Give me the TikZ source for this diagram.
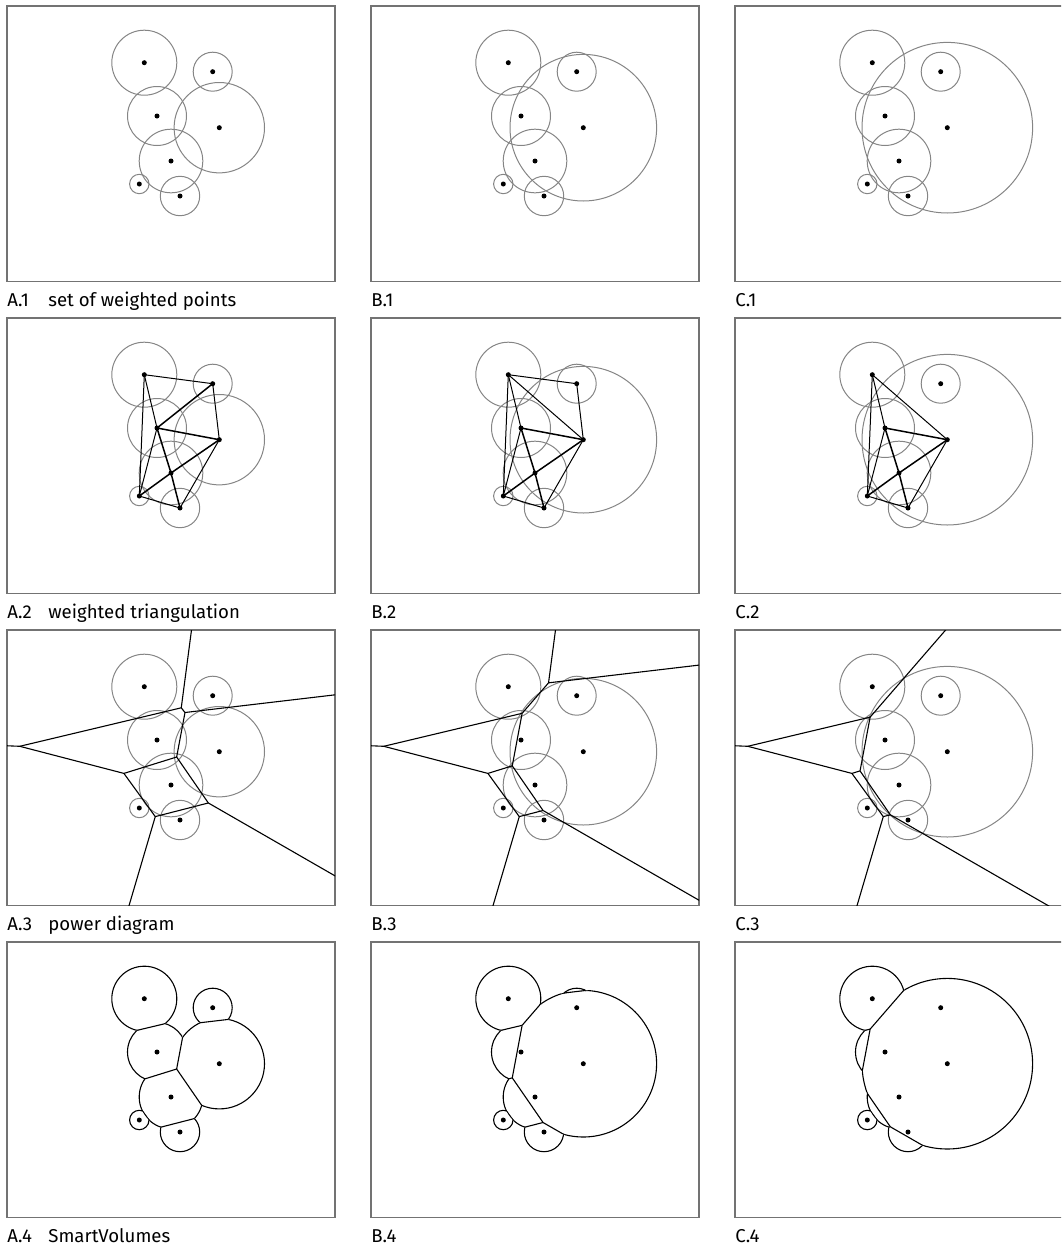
\documentclass[tikz,border=0pt]{standalone}
\usepackage{fontspec}
\setmainfont{Fira Sans}
\usetikzlibrary{calc}

\definecolor{ballgray}{gray}{0.52}
\definecolor{framegray}{gray}{0.45}

\tikzset{
  ball/.style={draw=ballgray, line width=0.5pt},
  frame/.style={draw=framegray, line width=0.55pt},
  site/.style={circle, fill=black, inner sep=0pt, minimum size=2.5pt},
  tri/.style={black, line width=0.5pt},
  trithick/.style={black, line width=0.75pt},
  cellline/.style={black, line width=0.55pt},
  caption/.style={anchor=base west, inner sep=0pt, font=\fontsize{9.3}{11}\selectfont},
}

\newcommand\sitecoords{%
  \coordinate (s1) at (144.3,62.7);
  \coordinate (s2) at (212.7,71.7);
  \coordinate (s3) at (157,116);
  \coordinate (s4) at (219.3,127.7);
  \coordinate (s5) at (171,161);
  \coordinate (s6) at (139.3,184);
  \coordinate (s7) at (180,196);
}
\newcommand\weightballs[1]{%
  \draw[ball] (s1) circle (32.5);
  \draw[ball] (s2) circle (19.5);
  \draw[ball] (s3) circle (29.5);
  \draw[ball] (s4) circle (#1);
  \draw[ball] (s5) circle (31.8);
  \draw[ball] (s6) circle (9.7);
  \draw[ball] (s7) circle (19.7);
}
\newcommand\sitedots{\foreach \i in {1,...,7}{\node[site] (d\i) at (s\i) {};}}
\newcommand\panelframe{\draw[frame] (7,6) rectangle (335,281.5);}

% power diagram vertices, shared by all three columns
\newcommand\sharedverts{%
  \coordinate (v136) at (19.75,122.29);
  \coordinate (v356) at (123.92,149.40);
  \coordinate (v567) at (155.27,192.60);
  \coordinate (f16) at (-344.15,107.29);
  \coordinate (f67) at (59.27,518.2);
}
\newcommand\vertsA{%
  \sharedverts
  \coordinate (v123) at (181.26,83.80);
  \coordinate (v234) at (185.00,88.51);
  \coordinate (v345) at (176.64,133.00);
  \coordinate (v457) at (208.33,178.96);
  \coordinate (f12) at (235.26,-326.6);
  \coordinate (f24) at (521,48.91);
  \coordinate (f47) at (549.83,375.46);
}
\newcommand\vertsB{%
  \sharedverts
  \coordinate (v124) at (184.54,58.83);
  \coordinate (v134) at (158.12,89.31);
  \coordinate (v345) at (148.26,141.83);
  \coordinate (v457) at (179.05,186.49);
  \coordinate (f12) at (238.54,-351.57);
  \coordinate (f24) at (520.54,19.23);
  \coordinate (f47) at (520.55,382.99);
}
\newcommand\vertsC{%
  \sharedverts
  \coordinate (v134) at (142.13,93.12);
  \coordinate (v345) at (132.04,146.88);
  \coordinate (v457) at (162.32,190.79);
  \coordinate (f14) at (467.13,-281.88);
  \coordinate (f47) at (503.82,387.29);
}

\newcommand\cellball[3]{\begin{scope}\clip #1 -- cycle; \draw[cellline] (#2) circle (#3);\end{scope}}
\newcommand\cutedge[4]{\begin{scope}\clip (#1) circle (#2); \draw[cellline] (#3) -- (#4);\end{scope}}

\begin{document}
\begin{tikzpicture}[x=0.5pt, y=-0.5pt]
\useasboundingbox (0,0) rectangle (1061,1248);
\clip (0,0) rectangle (1061,1248);

% row 1: weighted points
\begin{scope}
  \sitecoords \panelframe
  \weightballs{45.2}
  \sitedots
  \node[caption] (capA1) at (7,306) {A.1};
  \node[caption] (txtA1) at (48,306) {set of weighted points};
\end{scope}
\begin{scope}[shift={(364,0)}]
  \sitecoords \panelframe
  \weightballs{73.3}
  \sitedots
  \node[caption] (capB1) at (7,306) {B.1};
\end{scope}
\begin{scope}[shift={(728,0)}]
  \sitecoords \panelframe
  \weightballs{85.3}
  \sitedots
  \node[caption] (capC1) at (7,306) {C.1};
\end{scope}

% row 2: weighted triangulation
\begin{scope}[shift={(0,312)}]
  \sitecoords \panelframe
  \weightballs{45.2}
  \draw[tri] (s1) -- (s2) -- (s4) -- (s7) -- (s6) -- cycle;
  \draw[tri] (s1) -- (s3) -- (s6);
  \draw[trithick] (s2) -- (s3) -- (s4) -- (s5) -- (s6);
  \draw[trithick] (s3) -- (s5) -- (s7);
  \sitedots
  \node[caption] (capA2) at (7,306) {A.2};
  \node[caption] (txtA2) at (48,306) {weighted triangulation};
\end{scope}
\begin{scope}[shift={(364,312)}]
  \sitecoords \panelframe
  \weightballs{73.3}
  \draw[tri] (s1) -- (s2) -- (s4) -- (s7) -- (s6) -- cycle;
  \draw[tri] (s1) -- (s4);
  \draw[tri] (s1) -- (s3) -- (s6);
  \draw[trithick] (s3) -- (s4) -- (s5) -- (s6);
  \draw[trithick] (s3) -- (s5) -- (s7);
  \sitedots
  \node[caption] (capB2) at (7,306) {B.2};
\end{scope}
\begin{scope}[shift={(728,312)}]
  \sitecoords \panelframe
  \weightballs{85.3}
  \draw[tri] (s1) -- (s4) -- (s7) -- (s6) -- cycle;
  \draw[tri] (s1) -- (s3) -- (s6);
  \draw[trithick] (s3) -- (s4) -- (s5) -- (s6);
  \draw[trithick] (s3) -- (s5) -- (s7);
  \sitedots
  \node[caption] (capC2) at (7,306) {C.2};
\end{scope}

% row 3: power diagram
\begin{scope}[shift={(0,624)}]
  \sitecoords \vertsA \panelframe
  \weightballs{45.2}
  \begin{scope}
    \clip (7,6) rectangle (335,281.5);
    \draw[cellline] (f16) -- (v136) -- (v123) -- (f12);
    \draw[cellline] (v123) -- (v234) -- (f24);
    \draw[cellline] (v234) -- (v345) -- (v356) -- (v136);
    \draw[cellline] (v345) -- (v457) -- (f47);
    \draw[cellline] (v457) -- (v567) -- (f67);
    \draw[cellline] (v356) -- (v567);
  \end{scope}
  \sitedots
  \node[caption] (capA3) at (7,306) {A.3};
  \node[caption] (txtA3) at (48,306) {power diagram};
\end{scope}
\begin{scope}[shift={(364,624)}]
  \sitecoords \vertsB \panelframe
  \weightballs{73.3}
  \begin{scope}
    \clip (7,6) rectangle (335,281.5);
    \draw[cellline] (f16) -- (v136) -- (v134) -- (v124) -- (f12);
    \draw[cellline] (v124) -- (f24);
    \draw[cellline] (v134) -- (v345) -- (v356) -- (v136);
    \draw[cellline] (v345) -- (v457) -- (f47);
    \draw[cellline] (v457) -- (v567) -- (f67);
    \draw[cellline] (v356) -- (v567);
  \end{scope}
  \sitedots
  \node[caption] (capB3) at (7,306) {B.3};
\end{scope}
\begin{scope}[shift={(728,624)}]
  \sitecoords \vertsC \panelframe
  \weightballs{85.3}
  \begin{scope}
    \clip (7,6) rectangle (335,281.5);
    \draw[cellline] (f16) -- (v136) -- (v134) -- (f14);
    \draw[cellline] (v134) -- (v345) -- (v356) -- (v136);
    \draw[cellline] (v345) -- (v457) -- (f47);
    \draw[cellline] (v457) -- (v567) -- (f67);
    \draw[cellline] (v356) -- (v567);
  \end{scope}
  \sitedots
  \node[caption] (capC3) at (7,306) {C.3};
\end{scope}

% row 4: balls cut by their power cells
\begin{scope}[shift={(0,936)}]
  \sitecoords \vertsA \panelframe
  \cellball{(v136) -- (v123) -- (f12) -- (-400,-400) -- (f16)}{s1}{32.5}
  \cellball{(v123) -- (v234) -- (f24) -- (f12)}{s2}{19.5}
  \cellball{(v136) -- (v123) -- (v234) -- (v345) -- (v356)}{s3}{29.5}
  \cellball{(v234) -- (f24) -- (f47) -- (v457) -- (v345)}{s4}{45.2}
  \cellball{(v345) -- (v457) -- (v567) -- (v356)}{s5}{31.8}
  \cellball{(v136) -- (v356) -- (v567) -- (f67) -- (f16)}{s6}{9.7}
  \cellball{(v567) -- (v457) -- (f47) -- (f67)}{s7}{19.7}
  \cutedge{s1}{32.5}{v136}{v123}
  \cutedge{s2}{19.5}{v234}{f24}
  \cutedge{s3}{29.5}{v234}{v345}
  \cutedge{s3}{29.5}{v345}{v356}
  \cutedge{s4}{45.2}{v345}{v457}
  \cutedge{s5}{31.8}{v457}{v567}
  \cutedge{s5}{31.8}{v356}{v567}
  \sitedots
  \node[caption] (capA4) at (7,306) {A.4};
  \node[caption] (txtA4) at (48,306) {SmartVolumes};
\end{scope}
\begin{scope}[shift={(364,936)}]
  \sitecoords \vertsB \panelframe
  \cellball{(v136) -- (v134) -- (v124) -- (f12) -- (-400,-400) -- (f16)}{s1}{32.5}
  \cellball{(v124) -- (f24) -- (f12)}{s2}{19.5}
  \cellball{(v136) -- (v134) -- (v345) -- (v356)}{s3}{29.5}
  \cellball{(v134) -- (v124) -- (f24) -- (f47) -- (v457) -- (v345)}{s4}{73.3}
  \cellball{(v345) -- (v457) -- (v567) -- (v356)}{s5}{31.8}
  \cellball{(v136) -- (v356) -- (v567) -- (f67) -- (f16)}{s6}{9.7}
  \cellball{(v567) -- (v457) -- (f47) -- (f67)}{s7}{19.7}
  \cutedge{s1}{32.5}{v136}{v134}
  \cutedge{s1}{32.5}{v134}{v124}
  \cutedge{s2}{19.5}{v124}{f24}
  \cutedge{s3}{29.5}{v134}{v345}
  \cutedge{s3}{29.5}{v345}{v356}
  \cutedge{s4}{73.3}{v345}{v457}
  \cutedge{s4}{73.3}{v457}{f47}
  \cutedge{s5}{31.8}{v457}{v567}
  \cutedge{s5}{31.8}{v356}{v567}
  \sitedots
  \node[caption] (capB4) at (7,306) {B.4};
\end{scope}
\begin{scope}[shift={(728,936)}]
  \sitecoords \vertsC \panelframe
  \cellball{(v136) -- (v134) -- (f14) -- (-400,-400) -- (f16)}{s1}{32.5}
  \cellball{(v136) -- (v134) -- (v345) -- (v356)}{s3}{29.5}
  \cellball{(v134) -- (f14) -- (f47) -- (v457) -- (v345)}{s4}{85.3}
  \cellball{(v345) -- (v457) -- (v567) -- (v356)}{s5}{31.8}
  \cellball{(v136) -- (v356) -- (v567) -- (f67) -- (f16)}{s6}{9.7}
  \cellball{(v567) -- (v457) -- (f47) -- (f67)}{s7}{19.7}
  \cutedge{s1}{32.5}{v136}{v134}
  \cutedge{s1}{32.5}{v134}{f14}
  \cutedge{s3}{29.5}{v134}{v345}
  \cutedge{s3}{29.5}{v345}{v356}
  \cutedge{s4}{85.3}{v345}{v457}
  \cutedge{s4}{85.3}{v457}{f47}
  \cutedge{s5}{31.8}{v457}{v567}
  \cutedge{s5}{31.8}{v356}{v567}
  \sitedots
  \node[caption] (capC4) at (7,306) {C.4};
\end{scope}
\end{tikzpicture}
\end{document}
